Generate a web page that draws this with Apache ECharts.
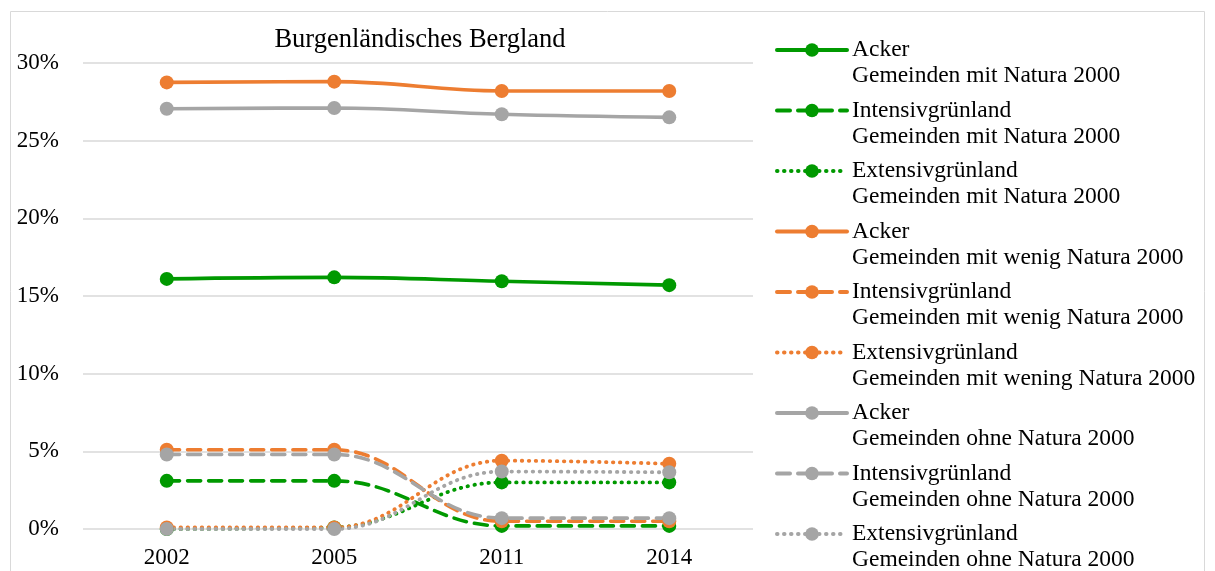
<!DOCTYPE html>
<html>
<head>
<meta charset="utf-8">
<script src="https://cdn.jsdelivr.net/npm/echarts@6/dist/echarts.min.js"></script>
<style>
  html, body { margin: 0; padding: 0; background: #fff; }
  #chart { width: 1215px; height: 571px; }
</style>
</head>
<body>
<div id="chart"></div>
<script>
// Jahre
const years = ["2002", "2005", "2011", "2014"];
// Anteile in %
const ackerMit = [16.1, 16.2, 15.95, 15.7];
const intensivMit = [3.1, 3.1, 0.2, 0.2];
const extensivMit = [0.0, 0.1, 3.0, 3.0];
const ackerWenig = [28.75, 28.8, 28.2, 28.2];
const intensivWenig = [5.1, 5.1, 0.5, 0.5];
const extensivWenig = [0.1, 0.1, 4.4, 4.2];
const ackerOhne = [27.05, 27.1, 26.7, 26.5];
const intensivOhne = [4.8, 4.8, 0.7, 0.7];
const extensivOhne = [0.0, 0.0, 3.7, 3.65];
const yTicks = [0, 5, 10, 15, 20, 25, 30];

const font = "'Liberation Serif', 'Times New Roman', serif";
const green = "#009900";
const orange = "#ED7D31";
const gray = "#A5A5A5";

// Linientypen
const solid = "solid";
const dashed = [13, 8];
const dotted = [0.5, 6.5];

function makeSeries(name, data, color, type) {
  return {
    name: name,
    type: "line",
    data: data,
    smooth: 0.4,
    symbol: "circle",
    symbolSize: 14,
    itemStyle: { color: color },
    lineStyle: {
      color: color,
      width: type === dotted ? 3.8 : 3.6,
      type: type,
      cap: "round"
    },
    emphasis: { disabled: true }
  };
}

const chart = echarts.init(document.getElementById("chart"));
chart.setOption({
  animation: false,
  graphic: [
    {
      type: "rect",
      shape: { x: 10.5, y: 11.5, width: 1194, height: 600 },
      style: { fill: "none", stroke: "#d9d9d9", lineWidth: 1 },
      silent: true
    }
  ],
  title: {
    text: "Burgenländisches Bergland",
    left: 415,
    top: 22,
    textAlign: "center",
    textStyle: { fontFamily: font, fontSize: 26.5, fontWeight: "normal", color: "#000" }
  },
  legend: {
    orient: "vertical",
    left: 775,
    top: 11,
    height: 800,
    padding: 0,
    itemWidth: 70,
    itemHeight: 17,
    itemGap: -17.5,
    selectedMode: false,
    lineStyle: { width: 4 },
    // Leerzeile oben, damit die erste Zeile auf Höhe des Symbols steht
    formatter: function (name) { return "\n" + name; },
    textStyle: {
      fontFamily: font,
      fontSize: 23.5,
      color: "#000",
      lineHeight: 26
    }
  },
  grid: { left: 83, right: 462, top: 63, bottom: 42 },
  xAxis: {
    type: "category",
    data: years,
    boundaryGap: true,
    axisLine: { show: false },
    axisTick: { show: false },
    axisLabel: { fontFamily: font, fontSize: 23, color: "#000", margin: 17 }
  },
  yAxis: {
    type: "value",
    min: yTicks[0],
    max: yTicks[yTicks.length - 1],
    interval: 5,
    axisLine: { show: false },
    axisTick: { show: false },
    splitLine: { lineStyle: { color: "#d9d9d9", width: 1.5 } },
    axisLabel: {
      fontFamily: font,
      fontSize: 23,
      color: "#000",
      margin: 24,
      formatter: "{value}%"
    }
  },
  series: [
    makeSeries("Acker\nGemeinden mit Natura 2000", ackerMit, green, solid),
    makeSeries("Intensivgrünland\nGemeinden mit Natura 2000", intensivMit, green, dashed),
    makeSeries("Extensivgrünland\nGemeinden mit Natura 2000", extensivMit, green, dotted),
    makeSeries("Acker\nGemeinden mit wenig Natura 2000", ackerWenig, orange, solid),
    makeSeries("Intensivgrünland\nGemeinden mit wenig Natura 2000", intensivWenig, orange, dashed),
    makeSeries("Extensivgrünland\nGemeinden mit wening Natura 2000", extensivWenig, orange, dotted),
    makeSeries("Acker\nGemeinden ohne Natura 2000", ackerOhne, gray, solid),
    makeSeries("Intensivgrünland\nGemeinden ohne Natura 2000", intensivOhne, gray, dashed),
    makeSeries("Extensivgrünland\nGemeinden ohne Natura 2000", extensivOhne, gray, dotted)
  ]
});
</script>
</body>
</html>
